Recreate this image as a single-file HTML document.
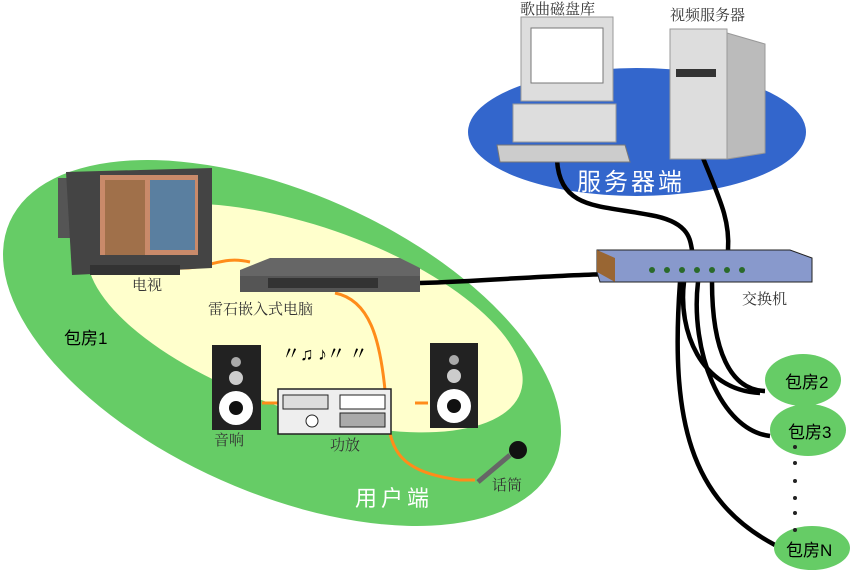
<!DOCTYPE html>
<html><head><meta charset="utf-8"><style>
html,body{margin:0;background:#fff;overflow:hidden;width:854px;height:571px}
svg{display:block}
text{font-family:"Liberation Serif","Noto Serif CJK SC",serif}
.s{font-family:"Liberation Sans","Noto Sans CJK SC",sans-serif}
</style></head><body>
<svg width="854" height="571" viewBox="0 0 854 571" xmlns="http://www.w3.org/2000/svg">
<rect width="854" height="571" fill="#fff"/>
<ellipse cx="282" cy="343" rx="298" ry="150" transform="rotate(24 282 343)" fill="#66cc66"/>
<ellipse cx="305" cy="318" rx="228" ry="92" transform="rotate(19 305 318)" fill="#ffffcc"/>
<ellipse cx="637" cy="132" rx="169" ry="64" fill="#3366cc"/>
<g fill="none" stroke="#000" stroke-width="4.5">
<path d="M557 160 C560 210 600 205 650 215 C690 222 690 240 692 250"/>
<path d="M703 158 C720 200 730 220 728 250"/>
<path d="M420 283 C520 280 620 268 675 278"/>
<path d="M684 282 C678 330 700 390 760 393"/>
<path d="M698 282 C690 350 720 430 770 436"/>
<path d="M680 282 C670 420 690 500 775 545"/>
<path d="M712 282 C712 350 730 390 765 391"/>
</g>
<g fill="none" stroke="#ff8c1a" stroke-width="3">
<path d="M175 268 C210 270 220 255 250 262"/>
<path d="M335 293 C370 300 380 340 385 390 C390 440 385 470 460 480 L475 480"/>
<path d="M262 403 L278 403"/><path d="M415 403 L428 403"/>
</g>
<rect x="58" y="178" width="18" height="60" fill="#555"/>
<polygon points="66,172 212,168 212,268 72,275" fill="#444"/>
<rect x="100" y="175" width="98" height="80" fill="#c98a6a"/>
<rect x="105" y="180" width="40" height="75" fill="#a0704a"/>
<rect x="150" y="180" width="45" height="70" fill="#5a7fa0"/>
<rect x="90" y="265" width="90" height="10" fill="#333"/>
<polygon points="240,270 270,258 400,258 420,268 420,290 240,290" fill="#666"/>
<rect x="240" y="276" width="180" height="16" fill="#555"/>
<rect x="268" y="278" width="110" height="10" fill="#333"/>
<g>
<rect x="212" y="345" width="49" height="85" fill="#222"/>
<circle cx="236" cy="408" r="17" fill="#fff"/><circle cx="236" cy="408" r="7" fill="#111"/>
<circle cx="236" cy="378" r="7" fill="#ccc"/><circle cx="236" cy="362" r="5" fill="#aaa"/>
<rect x="430" y="343" width="48" height="85" fill="#222"/>
<circle cx="454" cy="406" r="17" fill="#fff"/><circle cx="454" cy="406" r="7" fill="#111"/>
<circle cx="454" cy="376" r="7" fill="#ccc"/><circle cx="454" cy="360" r="5" fill="#aaa"/>
</g>
<rect x="278" y="389" width="113" height="45" fill="#eee" stroke="#222" stroke-width="1.5"/>
<rect x="283" y="395" width="45" height="14" fill="#ddd" stroke="#222"/>
<rect x="340" y="395" width="45" height="14" fill="#fff" stroke="#222"/>
<rect x="340" y="413" width="45" height="14" fill="#aaa" stroke="#222"/>
<circle cx="312" cy="421" r="6" fill="#fff" stroke="#222"/>
<text x="282" y="360" font-size="18" font-weight="bold">〃♫ ♪〃 〃</text>
<line x1="478" y1="482" x2="510" y2="455" stroke="#666" stroke-width="5"/>
<circle cx="518" cy="450" r="9" fill="#111"/>
<rect x="521" y="17" width="92" height="84" fill="#ddd" stroke="#999"/>
<rect x="531" y="28" width="72" height="55" fill="#fff" stroke="#777"/>
<rect x="513" y="104" width="103" height="38" fill="#ddd" stroke="#999"/>
<polygon points="497,145 625,145 630,162 500,162" fill="#ccc" stroke="#777"/>
<rect x="670" y="29" width="57" height="130" fill="#ddd" stroke="#999"/>
<polygon points="727,33 765,44 765,153 727,159" fill="#bbb" stroke="#999"/>
<rect x="676" y="69" width="40" height="8" fill="#333"/>
<polygon points="597,250 790,250 812,258 812,282 600,282 597,272" fill="#8899cc" stroke="#222"/>
<polygon points="597,250 615,258 615,282 597,272" fill="#996633"/>
<g fill="#2a6a2a"><circle cx="652" cy="270" r="3"/><circle cx="667" cy="270" r="3"/><circle cx="682" cy="270" r="3"/><circle cx="697" cy="270" r="3"/><circle cx="712" cy="270" r="3"/><circle cx="727" cy="270" r="3"/><circle cx="742" cy="270" r="3"/></g>
<ellipse cx="803" cy="380" rx="38" ry="26" fill="#66cc66"/>
<ellipse cx="808" cy="430" rx="38" ry="26" fill="#66cc66"/>
<ellipse cx="812" cy="548" rx="38" ry="22" fill="#66cc66"/>
<g fill="#222"><circle cx="795" cy="447" r="2"/><circle cx="795" cy="463" r="2"/><circle cx="795" cy="481" r="2"/><circle cx="795" cy="498" r="2"/><circle cx="795" cy="513" r="2"/><circle cx="795" cy="530" r="2"/></g>
<g font-size="15" fill="#333">
<text x="520" y="14">歌曲磁盘库</text>
<text x="670" y="20">视频服务器</text>
<text x="742" y="304">交换机</text>
<text x="132" y="290">电视</text>
<text x="208" y="314">雷石嵌入式电脑</text>
<text x="214" y="445">音响</text>
<text x="330" y="450">功放</text>
<text x="492" y="490">话筒</text>
</g>
<text x="577" y="190" font-size="24" fill="#fff" class="s" letter-spacing="3">服务器端</text>
<text x="355" y="506" font-size="22" fill="#fff" class="s" letter-spacing="4">用户端</text>
<g class="s" font-size="17" fill="#000">
<text x="64" y="344" class="s">包房1</text>
<text x="785" y="388" class="s">包房2</text>
<text x="788" y="438" class="s">包房3</text>
<text x="786" y="556" class="s">包房N</text>
</g>
</svg>
</body></html>
